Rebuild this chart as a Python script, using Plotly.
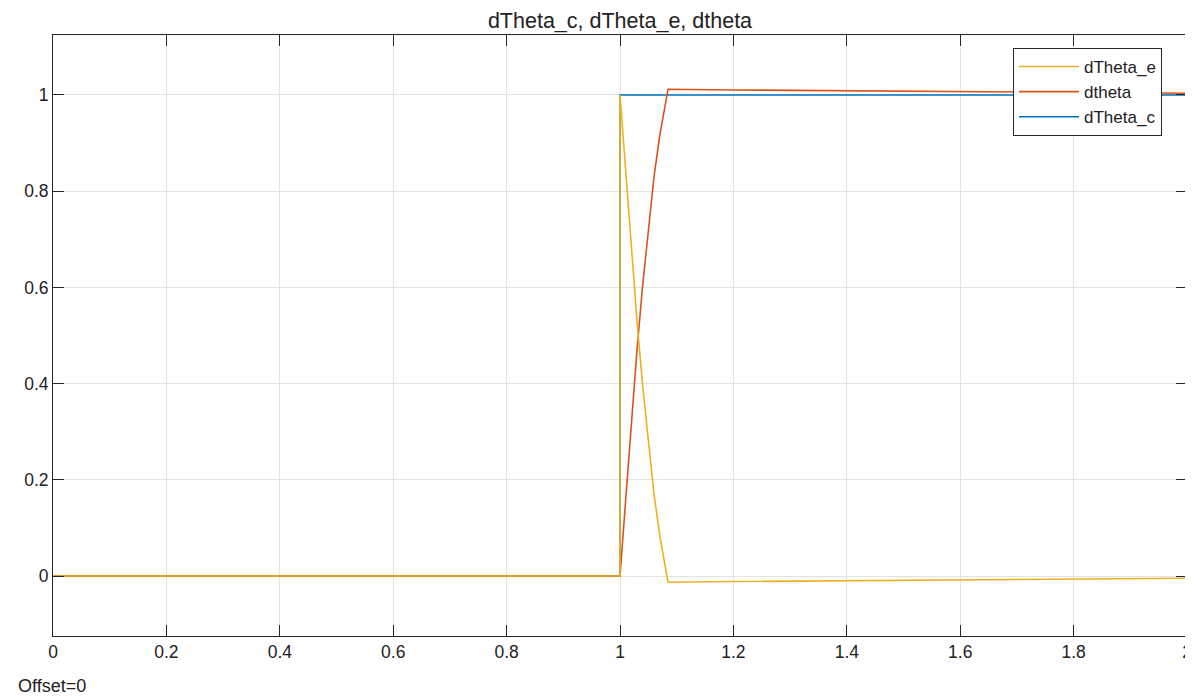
import plotly.graph_objects as go

# Time samples (s)
t_c = [0.0, 1.0, 1.0, 2.0]
dTheta_c = [0.0, 0.0, 1.0, 1.0]

t_theta = [0.0, 1.0, 1.01, 1.02, 1.03, 1.04, 1.05, 1.06, 1.07, 1.0847, 1.2, 1.4, 1.6, 1.8, 2.0]
dtheta = [0.0, 0.0, 0.158, 0.315, 0.47, 0.605, 0.725, 0.83, 0.915, 1.012, 1.0105, 1.0085, 1.0068, 1.005, 1.0035]

t_e = [0.0, 1.0, 1.0, 1.01, 1.02, 1.03, 1.04, 1.05, 1.06, 1.07, 1.0847, 1.2, 1.4, 1.6, 1.8, 2.0]
dTheta_e = [0.0, 0.0, 1.0, 0.842, 0.685, 0.53, 0.395, 0.275, 0.17, 0.085, -0.013, -0.0115, -0.0095, -0.0077, -0.006, -0.0045]

x_ticks = [0, 0.2, 0.4, 0.6, 0.8, 1, 1.2, 1.4, 1.6, 1.8, 2]
x_labels = ["0", "0.2", "0.4", "0.6", "0.8", "1", "1.2", "1.4", "1.6", "1.8", "2"]
y_ticks = [0, 0.2, 0.4, 0.6, 0.8, 1]
y_labels = ["0", "0.2", "0.4", "0.6", "0.8", "1"]

FONT = "Liberation Sans, Arial, Helvetica, sans-serif"

# page body has an 8px default margin; the figure is sized to fit the window
W, H = 1185, 689
ML, MR, MT, MB = 45, 6, 27, 61
PW, PH = W - ML - MR, H - MT - MB

fig = go.Figure()
fig.add_trace(go.Scatter(x=t_c, y=dTheta_c, mode="lines", name="dTheta_c",
                         line=dict(color="#0072BD", width=1.5)))
fig.add_trace(go.Scatter(x=t_theta, y=dtheta, mode="lines", name="dtheta",
                         line=dict(color="#D95319", width=1.6)))
fig.add_trace(go.Scatter(x=t_e, y=dTheta_e, mode="lines", name="dTheta_e",
                         line=dict(color="#EDB120", width=1.6)))

axis_common = dict(
    showgrid=True, gridcolor="#e3e3e3", gridwidth=1,
    showline=True, linecolor="#262626", linewidth=1, mirror="ticks",
    ticks="inside", ticklen=11, tickcolor="#262626", tickwidth=1,
    zeroline=False, automargin=False, ticklabeloverflow="allow",
    tickfont=dict(size=17.5, color="#222222", family=FONT),
)

fig.update_layout(
    width=W, height=H,
    margin=dict(l=ML, r=MR, t=MT, b=MB, autoexpand=False),
    paper_bgcolor="white", plot_bgcolor="white",
    title=dict(text="dTheta_c, dTheta_e, dtheta", x=(ML + PW / 2) / W, xanchor="center",
               y=1 - 12.5 / H, yanchor="middle",
               font=dict(size=21.5, color="#222222", family=FONT)),
    xaxis=dict(range=[0, 2], tickvals=x_ticks, ticktext=x_labels, **axis_common),
    yaxis=dict(range=[-0.1247, 1.1247], tickvals=y_ticks, ticktext=y_labels, **axis_common),
    legend=dict(x=(PW - 25) / PW, y=(PH - 13) / PH, xanchor="right", yanchor="top",
                traceorder="reversed", bgcolor="white", bordercolor="#262626",
                borderwidth=1, itemwidth=60,
                font=dict(size=17, color="#222222", family=FONT)),
    showlegend=True,
)

fig.add_annotation(text="Offset=0", xref="paper", yref="paper",
                   x=-(ML - 8) / PW, y=-50 / PH, xanchor="left", yanchor="middle",
                   showarrow=False, font=dict(size=18, color="#222222", family=FONT))

fig.write_html("out.html")
